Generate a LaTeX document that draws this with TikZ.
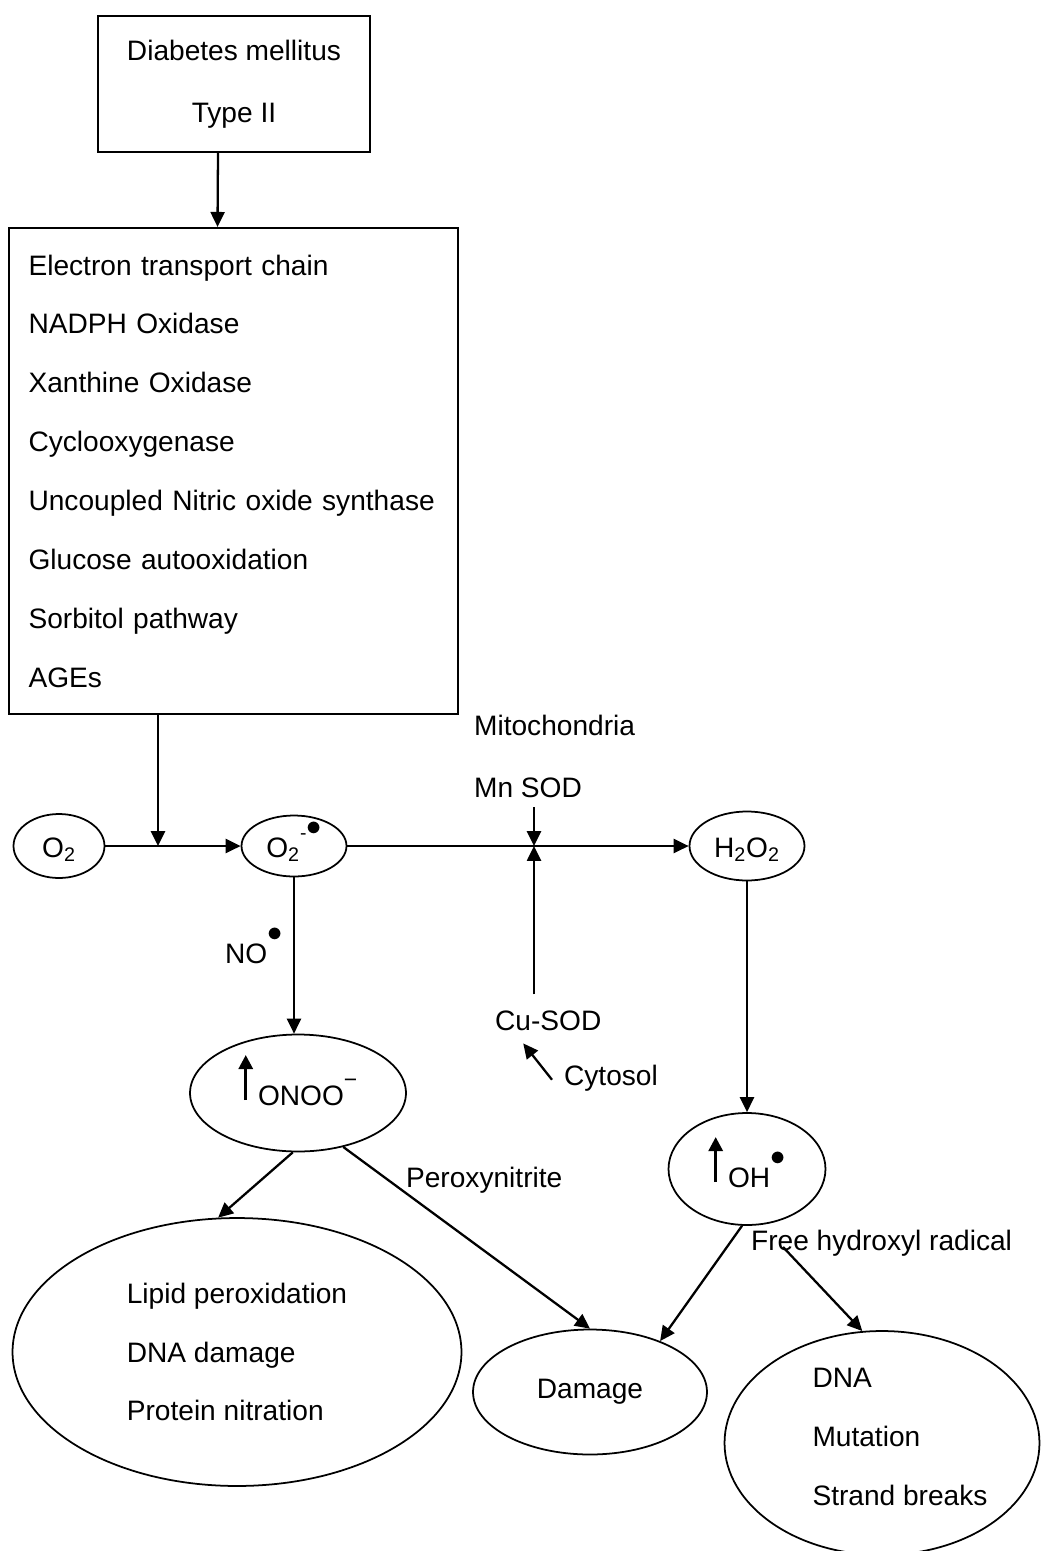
\documentclass[tikz,border=0pt]{standalone}
\usepackage{fontspec}
\setmainfont{Liberation Sans}
\usepackage{amssymb}
\usepackage{tikz}
\usetikzlibrary{shapes,arrows.meta,positioning}

\newcommand{\rdot}{\raisebox{12pt}{$\bullet$}}
\newcommand{\negsup}{\raisebox{10pt}{\fontsize{13}{13}\selectfont −}}
\newcommand{\uparr}{\tikz[baseline=0pt,x=1cm,y=1cm]\draw[line width=1.7pt,-{Triangle[length=8pt,width=8pt]}] (0,0.1) -- (0,1.0);}

\begin{document}
\begin{tikzpicture}[
    x=0.02cm, y=-0.02cm,
    font=\fontsize{16}{33.5}\selectfont,
    box/.style={rectangle, draw, line width=1.3pt, align=center},
    blob/.style={ellipse, draw, line width=1pt, inner sep=0pt},
    species/.style={blob, text height=0.44cm, text depth=0pt},
    tag/.style={inner sep=1pt, anchor=base west},
    arrow/.style={-{Triangle[length=8.5pt,width=8pt]}, line width=1.3pt}
]
    \useasboundingbox (0,0) rectangle (1047,1551);

    \node[box, minimum width=5.44cm, minimum height=2.72cm, font=\fontsize{16}{35}\selectfont] (diabetes) at (234,84) {Diabetes mellitus\\Type II};
    \node[box, align=left, text width=8.2cm, inner xsep=0.39cm, minimum height=9.72cm] (sources) at (233.5,471)
        {Electron transport chain\\NADPH Oxidase\\Xanthine Oxidase\\Cyclooxygenase\\Uncoupled Nitric oxide synthase\\Glucose autooxidation\\Sorbitol pathway\\AGEs};

    % superoxide row
    \node[species, minimum width=1.82cm, minimum height=1.28cm] (o2) at (59,846) {O\textsubscript{2}};
    \node[species, minimum width=2.1cm, minimum height=1.22cm] (sup) at (294,846) {O\textsubscript{2}\raisebox{10pt}{\fontsize{11}{11}\selectfont -}\rdot};
    \node[species, minimum width=2.3cm, minimum height=1.38cm] (hperox) at (747,846) {H\textsubscript{2}O\textsubscript{2}};
    \coordinate (merge) at (158,846);
    \coordinate (sod) at (534,846);

    \node[tag] (mito) at (472,735) {Mitochondria};
    \node[tag] (mnsod) at (472,797) {Mn SOD};
    \node[tag] (no) at (223,963) {NO\rdot};
    \node[tag] (cusod) at (493,1030) {Cu-SOD};
    \node[tag] (cytosol) at (562,1085) {Cytosol};

    \node[blob, minimum width=4.32cm, minimum height=2.34cm, text height=0.6cm, text depth=0.12cm] (onoo) at (298,1093) {\uparr\hspace{3pt}ONOO\negsup};
    \node[blob, minimum width=3.14cm, minimum height=2.24cm, text height=0.8cm, text depth=0.08cm] (oh) at (747,1169) {\uparr\hspace{3pt}OH\rdot};
    \node[tag] (peroxy) at (404,1187) {Peroxynitrite};
    \node[tag] (freeoh) at (749,1250) {Free hydroxyl radical};
    \coordinate (fork) at (783,1247);

    % outcomes
    \node[blob, minimum width=8.98cm, minimum height=5.36cm, align=left] (lipid) at (237,1352) {Lipid peroxidation\\DNA damage\\Protein nitration};
    \node[blob, minimum width=4.68cm, minimum height=2.5cm] (damage) at (590,1392) {Damage};
    \node[blob, minimum width=6.3cm, minimum height=4.48cm] (dna) at (882,1443) {};
    \node[align=left] (dnalist) at (900,1437) {DNA\\Mutation\\Strand breaks};

    \draw[arrow] ([xshift=-0.32cm]diabetes.south) -- ([xshift=-0.32cm]sources.north);
    \draw[arrow] (sources.south -| merge) -- (merge);
    \draw[arrow] (o2) -- (sup);
    \draw[arrow] (sup) -- (hperox);
    \draw[arrow] (mnsod.south -| sod) ++(0,8) -- (sod);
    \draw[arrow] (cusod.north -| sod) ++(0,-14) -- (sod);
    \draw[arrow] (cytosol.west) ++(-10,2) -- ([xshift=-0.5cm,yshift=-0.22cm]cusod.south);
    \draw[arrow] (sup.south) -- (sup.south |- onoo.north);
    \draw[arrow] (hperox) -- (oh);
    \draw[arrow] (onoo.265) -- (lipid.98);
    \draw[arrow] (onoo.-50) -- (damage.north);
    \draw[arrow] (oh.265) -- (damage.36);
    \draw[arrow] (fork) -- (dna.100);
\end{tikzpicture}
\end{document}
